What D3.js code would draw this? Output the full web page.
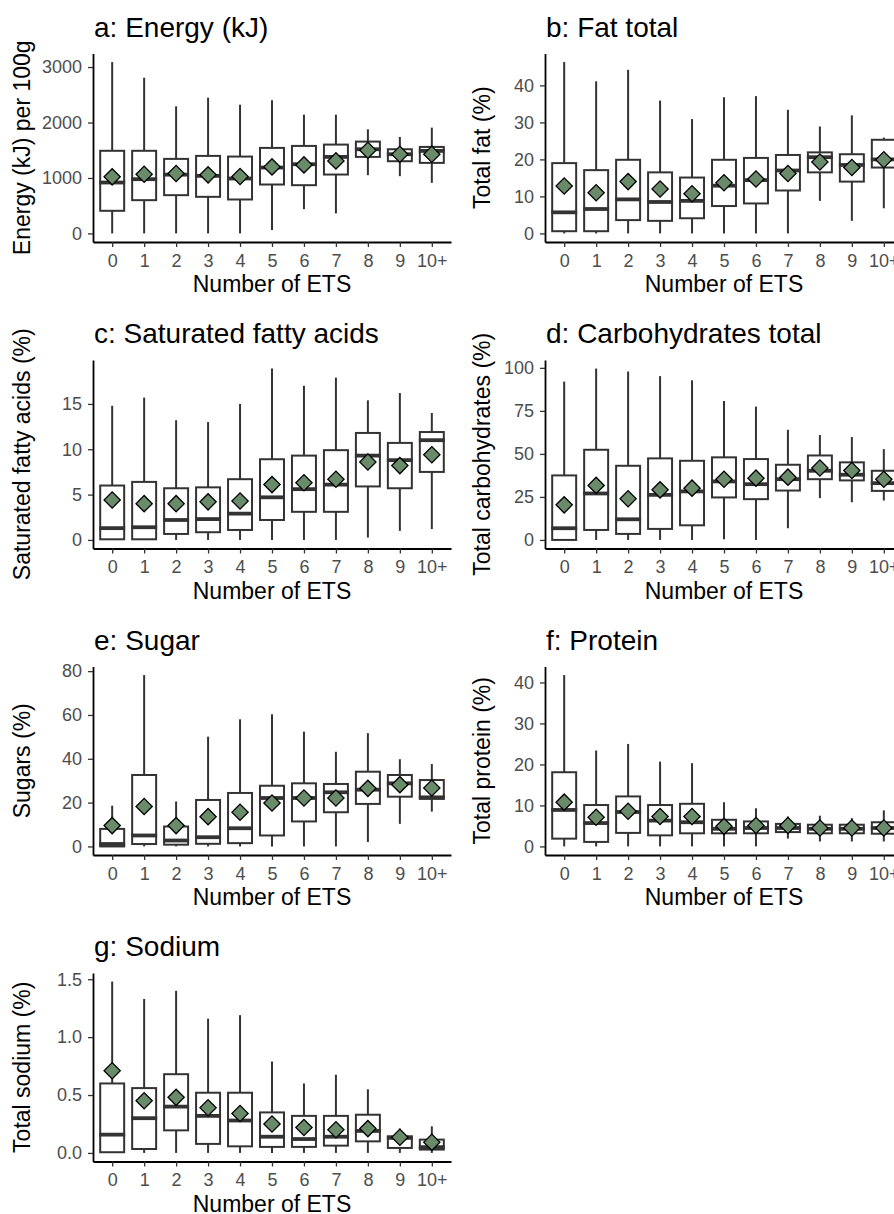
<!DOCTYPE html>
<html><head><meta charset="utf-8">
<script src="https://cdn.jsdelivr.net/npm/d3@7"></script>
<style>
body{margin:0;background:#fff}
svg{display:block}
text{font-family:"Liberation Sans",Arial,Helvetica,sans-serif}
</style>
</head><body>
<svg id="chart" width="894" height="1214"></svg>
<script>
const categories = ["0","1","2","3","4","5","6","7","8","9","10+"];

// each row: [lower whisker, Q1, median, Q3, upper whisker]
const energyBox = [[0,408,918,1490,3090],[0,600,978,1490,2808],[0,690,1060,1344,2292],[0,660,1038,1398,2448],[0,612,990,1386,2322],[60,882,1188,1542,2400],[438,870,1248,1578,2142],[360,1062,1380,1602,2142],[1050,1380,1518,1656,1878],[1032,1302,1428,1518,1740],[912,1272,1488,1560,1908]];
const energyMean = [1020,1068,1080,1056,1026,1200,1236,1308,1500,1428,1428];

const fatBox = [[0,0.6,5.7,19.0,46.3],[0,0.6,6.6,17.1,41.1],[0,3.6,9.2,19.9,44.2],[0,3.4,8.5,16.5,35.9],[0,4.1,8.8,15.1,30.9],[0,7.4,12.9,19.9,36.8],[0,8.1,14.4,20.4,37.1],[0,11.6,17.0,21.2,33.4],[8.8,16.5,20.6,21.9,28.9],[3.4,14.0,18.5,21.4,31.9],[6.8,17.8,20.0,25.3,25.9]];
const fatMean = [12.8,11.0,14.0,12.0,10.7,13.7,14.7,16.2,19.3,17.8,19.9];

const satBox = [[0,0.07,1.3,6.0,14.8],[0,0.07,1.4,6.4,15.7],[0,0.66,2.2,5.7,13.2],[0,0.85,2.3,5.8,13.0],[0,1.1,2.9,6.7,15.0],[0,2.2,4.7,8.9,18.9],[0,3.1,5.6,9.3,17.0],[0,3.1,6.1,9.9,17.9],[0.26,5.9,9.3,11.8,15.4],[1.0,5.7,8.8,10.7,16.2],[1.2,7.5,11.0,11.9,14.0]];
const satMean = [4.4,4.0,4.0,4.2,4.3,6.1,6.3,6.7,8.6,8.2,9.4];

const carbBox = [[0,0,6.8,37.5,92],[0,5.8,27.0,52.4,99.6],[0,3.5,12.0,43.1,97.9],[0,6.4,26.2,47.4,95.2],[0,8.5,28.2,46.0,92.8],[0.4,24.7,34.0,48.0,80.8],[0,23.7,32.4,47.0,77.5],[6.8,28.7,35.3,43.7,64.0],[24.3,35.3,40.2,49.1,61.0],[21.9,34.6,37.9,45.1,59.8],[22.9,28.5,33.0,40.2,52.8]];
const carbMean = [20.4,31.7,23.9,29.1,30.1,35.3,35.9,36.5,41.8,40.4,35.3];

const sugarBox = [[0,0,1.1,8.0,18.6],[0,1.1,5.0,32.6,78.2],[0,0.8,2.7,9.1,20.5],[0,1.2,4.2,21.2,50.1],[0,1.5,8.3,24.4,58.0],[0,5.0,22.1,27.7,60.3],[0,11.4,22.1,28.8,52.4],[0,15.6,24.7,28.5,43.2],[2.0,19.4,25.9,34.1,51.7],[10.3,22.7,28.8,32.6,39.8],[15.9,21.7,22.4,30.3,37.6]];
const sugarMean = [9.5,18.2,9.5,13.6,15.6,19.8,22.1,22.1,26.5,28.2,26.7];

const proteinBox = [[0,1.9,8.9,18.1,41.8],[0,1.1,5.7,10.1,23.4],[0,3.3,8.4,12.2,25.0],[0,2.7,6.3,10.1,20.7],[0,3.2,5.9,10.4,20.3],[0,3.2,4.3,6.5,10.8],[0,3.2,4.5,6.1,9.3],[1.9,3.5,4.5,5.5,7.3],[1.2,3.2,4.3,5.3,7.5],[1.2,3.2,4.3,5.3,6.9],[1.2,3.1,4.5,5.9,8.8]];
const proteinMean = [10.8,7.1,8.6,7.3,7.3,4.9,5.1,5.1,4.5,4.5,4.5];

const sodiumBox = [[0,0.006,0.158,0.60,1.48],[0,0.034,0.30,0.56,1.33],[0,0.195,0.40,0.68,1.40],[0,0.078,0.32,0.52,1.16],[0,0.057,0.28,0.52,1.19],[0,0.052,0.14,0.35,0.79],[0,0.052,0.12,0.32,0.60],[0,0.063,0.14,0.32,0.675],[0,0.10,0.19,0.33,0.55],[0,0.043,0.13,0.144,0.21],[0,0.029,0.05,0.115,0.23]];
const sodiumMean = [0.71,0.45,0.48,0.39,0.34,0.25,0.22,0.20,0.21,0.135,0.092];

const panelTitles = ["a: Energy (kJ)","b: Fat total","c: Saturated fatty acids","d: Carbohydrates total","e: Sugar","f: Protein","g: Sodium"];
const yTitles = ["Energy (kJ) per 100g","Total fat (%)","Saturated fatty acids (%)","Total carbohydrates (%)","Sugars (%)","Total protein (%)","Total sodium (%)"];
const yTicks = [[0,1000,2000,3000],[0,10,20,30,40],[0,5,10,15],[0,25,50,75,100],[0,20,40,60,80],[0,10,20,30,40],[0,0.5,1.0,1.5]];
const yTickLabels = [["0","1000","2000","3000"],["0","10","20","30","40"],["0","5","10","15"],["0","25","50","75","100"],["0","20","40","60","80"],["0","10","20","30","40"],["0.0","0.5","1.0","1.5"]];
const xTitle = "Number of ETS";

const boxes = [energyBox,fatBox,satBox,carbBox,sugarBox,proteinBox,sodiumBox];
const means = [energyMean,fatMean,satMean,carbMean,sugarMean,proteinMean,sodiumMean];

const svg = d3.select("#chart");
const COLW = 452, ROWH = 306.5;
const PL = 93, PR = 451, PT = 53.5, PB = 242;
const ink = "#333333";

boxes.forEach((box, i) => {
  const col = i % 2, row = Math.floor(i / 2);
  const g = svg.append("g").attr("transform", `translate(${col * COLW},${row * ROWH})`);
  const x = d3.scalePoint().domain(categories).range([PL, PR]).padding(0.6);
  const lo = d3.min(box, d => d[0]), hi = d3.max(box, d => d[4]);
  const pad = (hi - lo) * 0.05;
  const y = d3.scaleLinear().domain([lo - pad, hi + pad]).range([PB, PT]);
  const bw = x.step() * 0.75;

  const items = g.selectAll("g.box").data(box).join("g")
    .attr("class", "box")
    .attr("transform", (d, j) => `translate(${x(categories[j])},0)`);
  items.append("line").attr("x1", 0).attr("x2", 0)
    .attr("y1", d => y(d[0])).attr("y2", d => y(d[1]))
    .attr("stroke", ink).attr("stroke-width", 2);
  items.append("line").attr("x1", 0).attr("x2", 0)
    .attr("y1", d => y(d[3])).attr("y2", d => y(d[4]))
    .attr("stroke", ink).attr("stroke-width", 2);
  items.append("rect").attr("x", -bw / 2).attr("width", bw)
    .attr("y", d => y(d[3])).attr("height", d => Math.max(0, y(d[1]) - y(d[3])))
    .attr("fill", "#fff").attr("stroke", ink).attr("stroke-width", 2);
  items.append("line").attr("x1", -bw / 2 - 1).attr("x2", bw / 2 + 1)
    .attr("y1", d => y(d[2])).attr("y2", d => y(d[2]))
    .attr("stroke", ink).attr("stroke-width", 3.8);

  g.selectAll("path.mean").data(means[i]).join("path")
    .attr("class", "mean")
    .attr("d", d3.symbol(d3.symbolSquare, 132))
    .attr("transform", (d, j) => `translate(${x(categories[j])},${y(d)}) rotate(45)`)
    .attr("fill", "#698B69").attr("stroke", "#000").attr("stroke-width", 1.3);

  const xa = g.append("g").attr("transform", `translate(0,${PB})`)
    .call(d3.axisBottom(x).tickSize(5).tickSizeOuter(0).tickPadding(7));
  const ya = g.append("g").attr("transform", `translate(${PL},0)`)
    .call(d3.axisLeft(y).tickValues(yTicks[i]).tickFormat((d, k) => yTickLabels[i][k])
      .tickSize(5).tickSizeOuter(0).tickPadding(6));
  [xa, ya].forEach(a => {
    a.select(".domain").attr("stroke", "#000").attr("stroke-width", 1.8);
    a.selectAll(".tick line").attr("stroke", ink).attr("stroke-width", 1.3);
    a.selectAll(".tick text").attr("fill", "#4d4d4d").style("font-size", "18px")
      .style("font-family", '"Liberation Sans",Arial,sans-serif');
  });

  g.append("text").attr("x", PL + 1).attr("y", 36.5)
    .attr("fill", "#000").style("font-size", "28px").text(panelTitles[i]);
  g.append("text").attr("x", (PL + PR) / 2).attr("y", PB + 50)
    .attr("text-anchor", "middle").attr("fill", "#000").style("font-size", "23px").text(xTitle);
  const ytx = col === 0 ? 30 : 38;
  g.append("text").attr("transform", `translate(${ytx},${(PT + PB) / 2}) rotate(-90)`)
    .attr("text-anchor", "middle").attr("fill", "#000").style("font-size", "23px").text(yTitles[i]);
});
</script>
</body></html>
